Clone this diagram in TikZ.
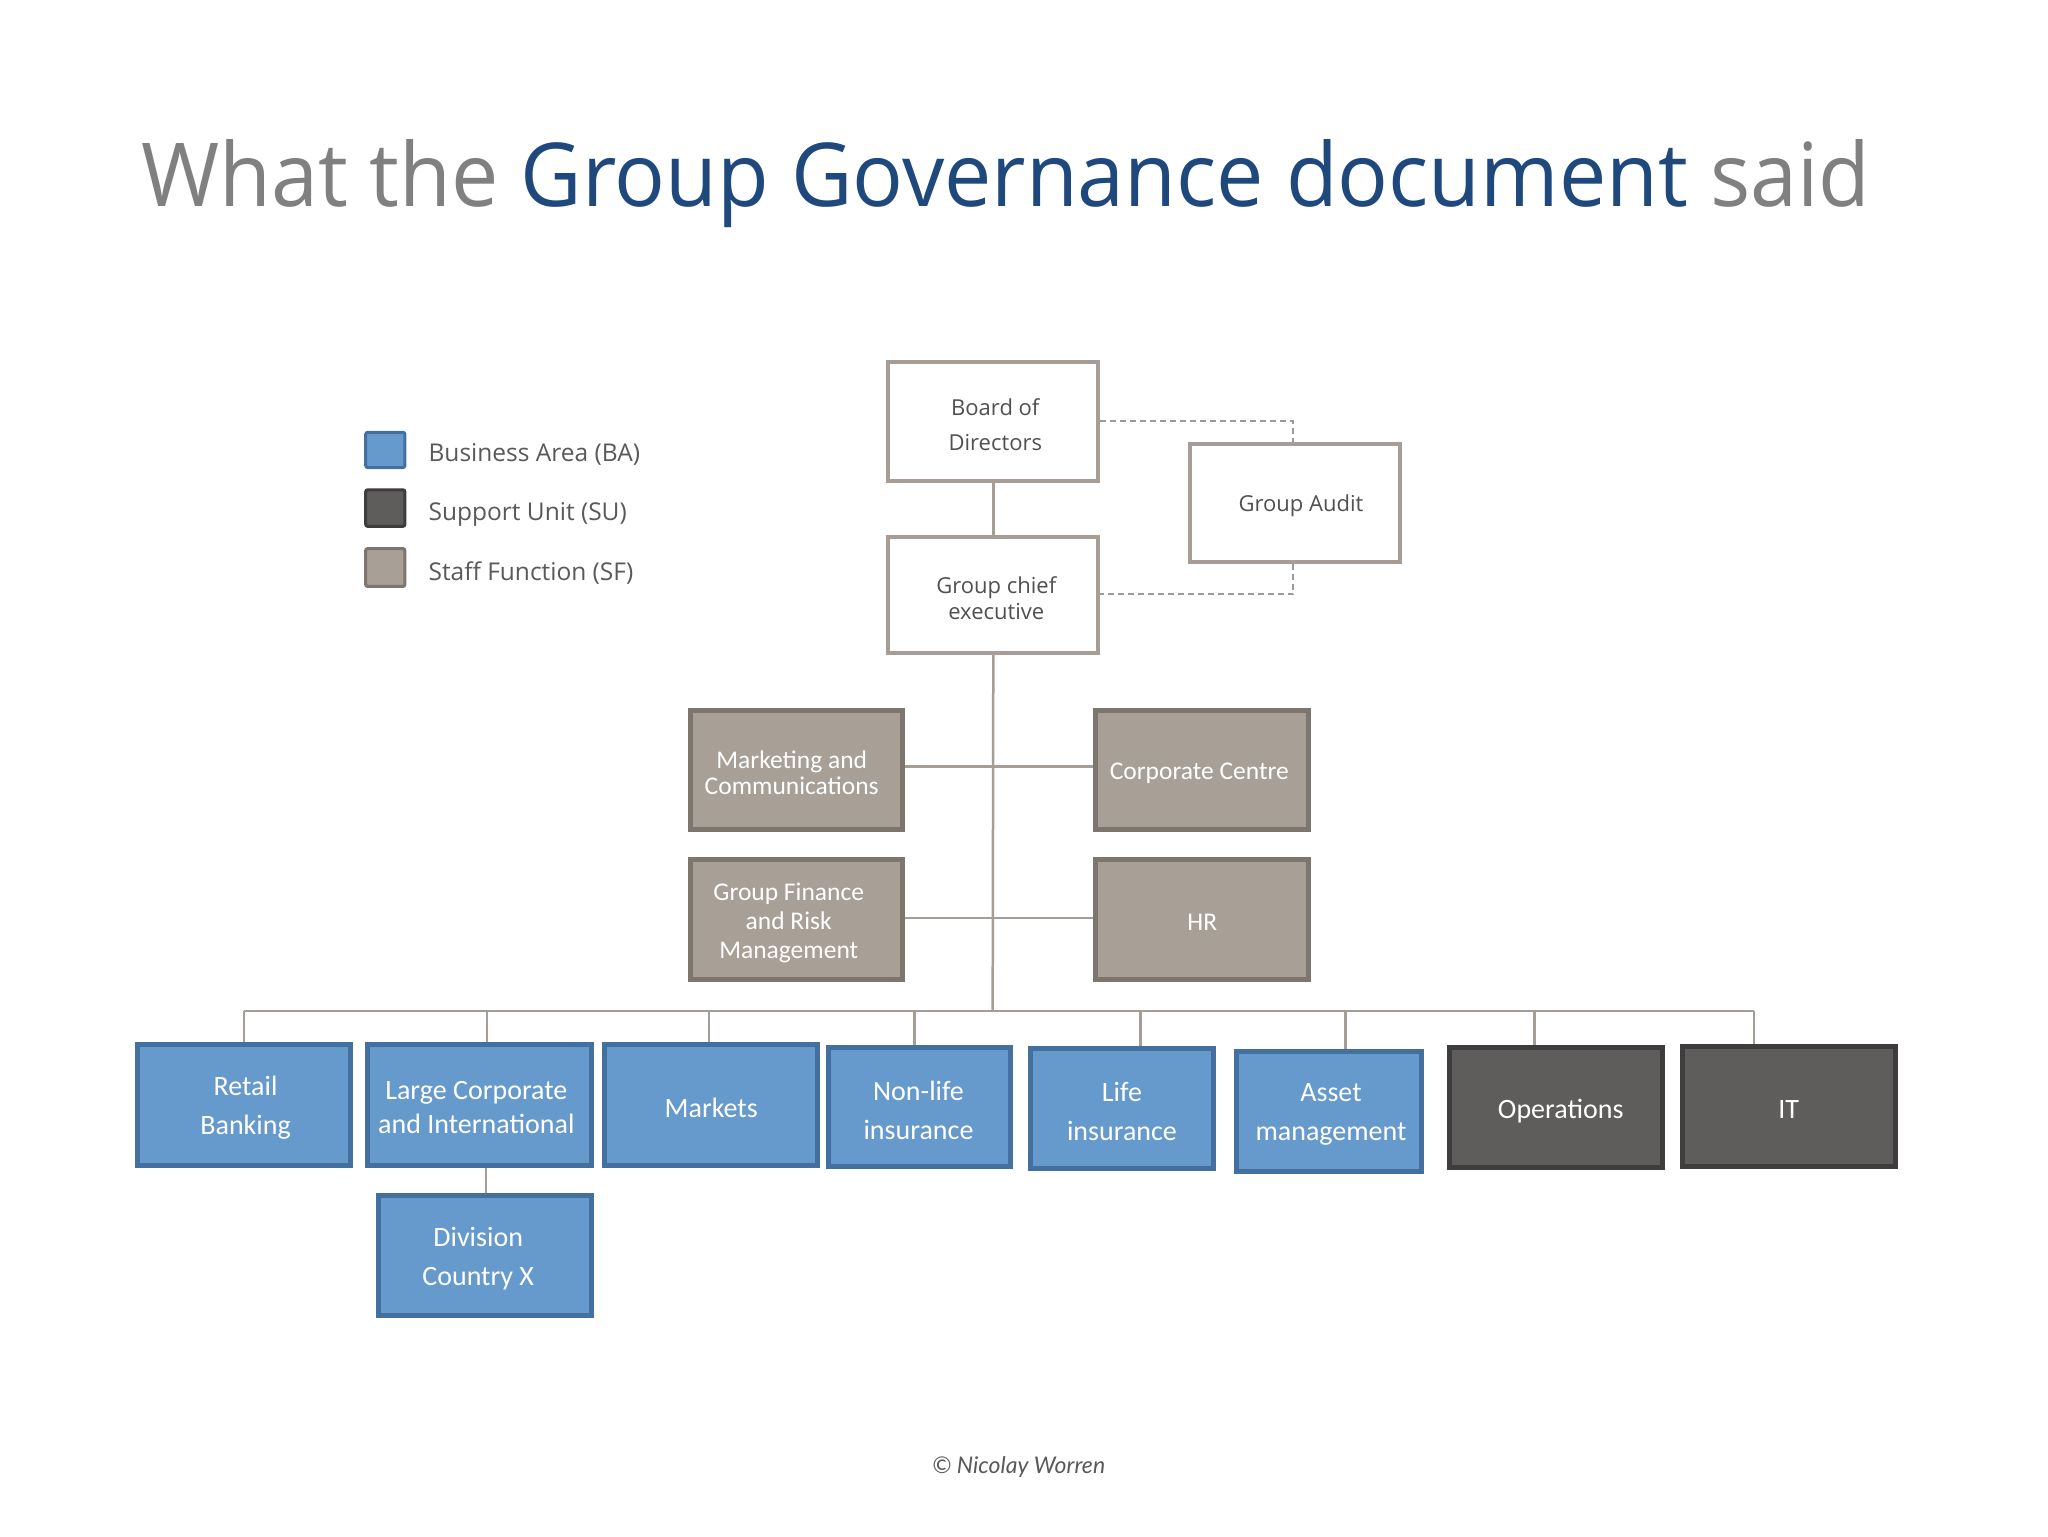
\documentclass[tikz,border=0pt]{standalone}
\usepackage{fontspec}
\usepackage{graphicx}
\setmainfont{Open Sans}
\newfontfamily\calfont{Carlito}
\newfontfamily\footfont{Lato}
\usetikzlibrary{fit}
\definecolor{baFill}{HTML}{6699CC}
\definecolor{baLine}{HTML}{44709F}
\definecolor{suFill}{HTML}{5F5C5C}
\definecolor{suLine}{HTML}{3E3C3C}
\definecolor{sfFill}{HTML}{A89F96}
\definecolor{sfLine}{HTML}{7D766F}
\definecolor{wbLine}{HTML}{A69E96}
\definecolor{conn}{HTML}{A59E97}
\definecolor{dashc}{HTML}{9A9A9A}
\definecolor{txt}{HTML}{595959}
\definecolor{boxtxt}{HTML}{505050}
\definecolor{ttlgrey}{HTML}{808080}
\definecolor{ttlblue}{HTML}{1F497D}
\begin{document}
\begin{tikzpicture}[x=1.3061pt,y=-1.3061pt,
  wbox/.style={draw=wbLine, line width=4pt, fill=white, inner sep=0pt},
  babox/.style={draw=baLine, line width=5pt, fill=baFill, inner sep=0pt},
  subox/.style={draw=suLine, line width=5pt, fill=suFill, inner sep=0pt},
  sfbox/.style={draw=sfLine, line width=5pt, fill=sfFill, inner sep=0pt},
  wtxt/.style={inner sep=0pt, text=boxtxt, align=center, yshift=-3pt},
  ctxt/.style={inner sep=0pt, text=white, align=center, yshift=-3pt},
  lgsq/.style={line width=3pt, inner sep=0pt, rounded corners=2pt},
  lgtxt/.style={anchor=west, inner sep=0pt, text=txt, font=\fontsize{24.5}{28}\selectfont},
  conline/.style={draw=conn, line width=2.5pt},
  dashline/.style={draw=dashc, line width=2pt, dash pattern=on 6pt off 4pt}
]
\fill[white] (0,0) rectangle (1568,1176);
\useasboundingbox (0,0) rectangle (1568,1176);

% title
\node[anchor=base west, inner sep=0pt] (title) at (108,158)
  {\resizebox{1729pt}{67pt}{\color{ttlgrey}What the \color{ttlblue}Group Governance document \color{ttlgrey}said}};

% legend
\node[lgsq, draw=baLine, fill=baFill, fit={(280,331)(310,358)}] (lgba) {};
\node[lgsq, draw=suLine, fill=suFill, fit={(280,375)(310,403)}] (lgsu) {};
\node[lgsq, draw=sfLine, fill=sfFill, fit={(280,420)(310,449)}] (lgsf) {};
\node[lgtxt] (lgbat) at (328,348) {Business Area (BA)};
\node[lgtxt] (lgsut) at (328,394) {Support Unit (SU)};
\node[lgtxt] (lgsft) at (328,439) {Staff Function (SF)};

% top boxes
\node[wbox, fit={(680,277)(841,368)}] (board) {};
\node[wtxt, xshift=2pt, font=\fontsize{22}{35}\selectfont] (boardT) at (board.center) {Board of\\Directors};
\node[wbox, fit={(911,340)(1072,430)}] (audit) {};
\node[wtxt, xshift=6pt, font=\fontsize{22}{26}\selectfont] (auditT) at (audit.center) {Group Audit};
\node[wbox, fit={(680,411)(841,500)}] (gce) {};
\node[wtxt, xshift=3pt, font=\fontsize{22}{26}\selectfont] (gceT) at (gce.center) {Group chief\\executive};

% staff functions
\node[sfbox, fit={(529,544)(691,635)}] (mkt) {};
\node[ctxt, xshift=-5pt, font=\calfont\fontsize{25.5}{26}\selectfont] (mktT) at (mkt.center) {Marketing and\\Communications};
\node[sfbox, fit={(839,544)(1002,635)}] (cc) {};
\node[ctxt, xshift=-3pt, font=\calfont\fontsize{25.5}{26}\selectfont] (ccT) at (cc.center) {Corporate Centre};
\node[sfbox, fit={(529,658)(691,750)}] (gf) {};
\node[ctxt, xshift=-8pt, font=\calfont\fontsize{25.5}{29}\selectfont] (gfT) at (gf.center) {Group Finance\\and Risk\\Management};
\node[sfbox, fit={(839,658)(1002,750)}] (hr) {};
\node[ctxt, font=\calfont\fontsize{25.5}{29}\selectfont] (hrT) at (hr.center) {HR};

% business areas and support units
\node[babox, fit={(105,800)(268,892)}] (retail) {};
\node[ctxt, xshift=2pt, font=\calfont\fontsize{28}{39}\selectfont] (retailT) at (retail.center) {Retail\\Banking};
\node[babox, fit={(281,800)(453,892)}] (lc) {};
\node[ctxt, xshift=-3pt, font=\calfont\fontsize{28}{34}\selectfont] (lcT) at (lc.center) {Large Corporate\\and International};
\node[babox, fit={(463,800)(626,892)}] (markets) {};
\node[ctxt, font=\calfont\fontsize{28}{39}\selectfont] (marketsT) at (markets.center) {Markets};
\node[babox, fit={(634,802)(774,893)}] (nonlife) {};
\node[ctxt, xshift=-1pt, font=\calfont\fontsize{28}{39}\selectfont] (nonlifeT) at (nonlife.center) {Non-life\\insurance};
\node[babox, fit={(789,803)(929,895)}] (life) {};
\node[ctxt, font=\calfont\fontsize{28}{39}\selectfont] (lifeT) at (life.center) {Life\\insurance};
\node[babox, fit={(947,805)(1088,897)}] (asset) {};
\node[ctxt, xshift=2pt, font=\calfont\fontsize{28}{39}\selectfont] (assetT) at (asset.center) {Asset\\management};
\node[subox, fit={(1110,802)(1273,894)}] (ops) {};
\node[ctxt, xshift=4.5pt, font=\calfont\fontsize{28}{39}\selectfont] (opsT) at (ops.center) {Operations};
\node[subox, fit={(1288,801)(1451,893)}] (it) {};
\node[ctxt, font=\calfont\fontsize{28}{39}\selectfont] (itT) at (it.center) {IT};
\node[babox, fit={(290,915)(453,1007)}] (div) {};
\node[ctxt, xshift=-7pt, font=\calfont\fontsize{28}{39}\selectfont] (divT) at (div.center) {Division\\Country X};

% footer
\node[inner sep=0pt, text=txt, font=\footfont\itshape\fontsize{23}{26}\selectfont] (foot) at (780,1123) {© Nicolay Worren};

% connectors
\coordinate (bus) at (760,774);
\coordinate (busL) at (187,774);
\coordinate (busR) at (1343,774);
\draw[conline] (board.south) -- (gce.north);
\draw[conline] (gce.south) -- (bus);
\draw[conline] (busL) -- (busR);
\draw[conline] (mkt.east |- 0,587) -- (cc.west |- 0,587);
\draw[conline] (gf.east |- 0,703) -- (hr.west |- 0,703);
\draw[conline] (bus -| 187,0) -- (retail.north -| 187,0);
\draw[conline] (bus -| 373,0) -- (lc.north -| 373,0);
\draw[conline] (bus -| 543,0) -- (markets.north -| 543,0);
\draw[conline] (bus -| 700,0) -- (nonlife.north -| 700,0);
\draw[conline] (bus -| 873,0) -- (life.north -| 873,0);
\draw[conline] (bus -| 1030,0) -- (asset.north -| 1030,0);
\draw[conline] (bus -| 1175,0) -- (ops.north -| 1175,0);
\draw[conline] (busR) -- (it.north -| 1343,0);
\draw[conline] (lc.south -| 372,0) -- (div.north -| 372,0);
\draw[dashline] (board.east |- 0,322) -| (990,0 |- audit.north);
\draw[dashline] (990,0 |- audit.south) |- (gce.east |- 0,455);
\end{tikzpicture}
\end{document}
